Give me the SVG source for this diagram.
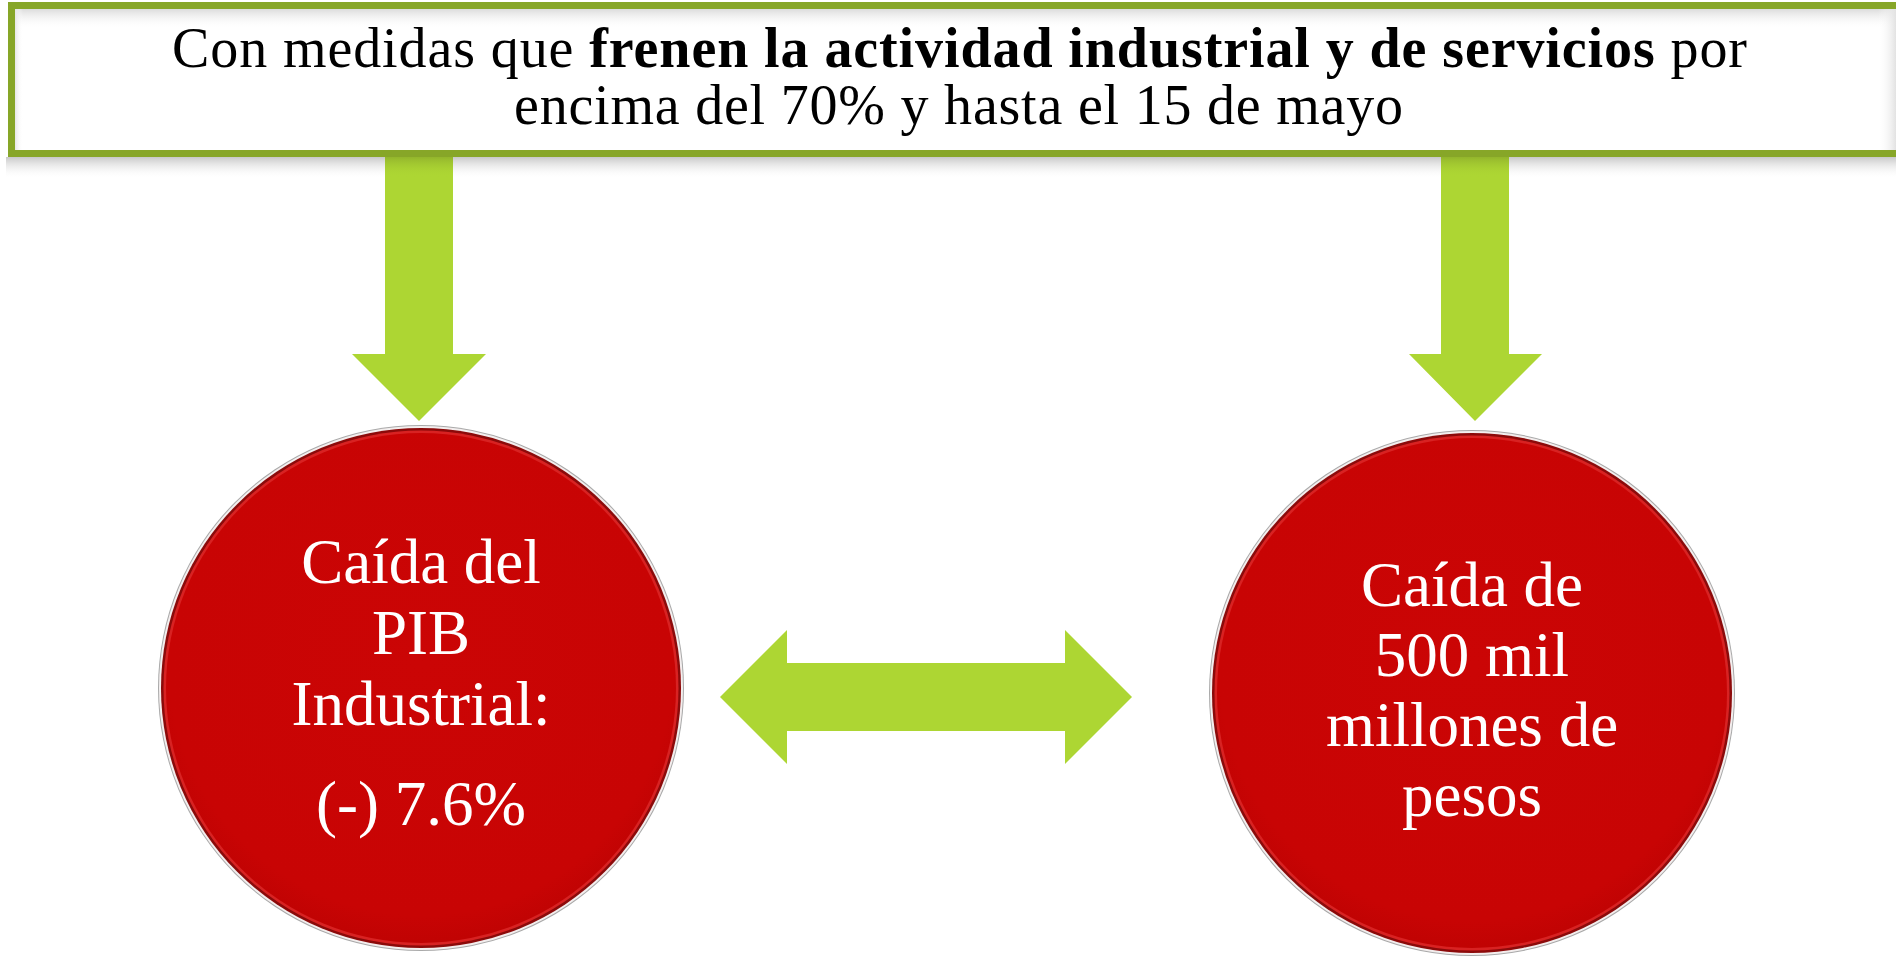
<svg xmlns="http://www.w3.org/2000/svg" width="1896" height="957" viewBox="0 0 1896 957">
  <style>
    .top { font-family: "Liberation Serif", "Times New Roman", serif; font-size: 56px; fill: #000; }
    .b { font-weight: bold; }
    .ct { font-family: "Liberation Serif", "Times New Roman", serif; font-size: 63px; fill: #fff; text-anchor: middle; }
    .arrow { fill: #add633; }
  </style>
  <defs>
    <linearGradient id="shadowDown" x1="0" y1="0" x2="0" y2="1">
      <stop offset="0" stop-color="#c8c8c8"/>
      <stop offset="1" stop-color="#ffffff" stop-opacity="0"/>
    </linearGradient>
    <linearGradient id="innerTop" x1="0" y1="0" x2="0" y2="1">
      <stop offset="0" stop-color="#dcdcdc"/>
      <stop offset="1" stop-color="#ffffff" stop-opacity="0"/>
    </linearGradient>
    <linearGradient id="innerRight" x1="1" y1="0" x2="0" y2="0">
      <stop offset="0" stop-color="#e2e2e2"/>
      <stop offset="1" stop-color="#ffffff" stop-opacity="0"/>
    </linearGradient>
    <linearGradient id="innerLeft" x1="0" y1="0" x2="1" y2="0">
      <stop offset="0" stop-color="#e6e6e6"/>
      <stop offset="1" stop-color="#ffffff" stop-opacity="0"/>
    </linearGradient>
    <linearGradient id="shaftShade" x1="0" y1="0" x2="0" y2="1">
      <stop offset="0" stop-color="#93b52c"/>
      <stop offset="1" stop-color="#add633" stop-opacity="0"/>
    </linearGradient>
    <radialGradient id="redFill" cx="0.5" cy="0.45" r="0.55">
      <stop offset="0" stop-color="#cb0505"/>
      <stop offset="0.9" stop-color="#c80404"/>
      <stop offset="1" stop-color="#c00303"/>
    </radialGradient>
    <g id="disc">
      <circle r="263" fill="#a9a9a9"/>
      <circle r="262" fill="#f3eeee"/>
      <circle r="260" fill="#8c0a0a"/>
      <circle r="257.5" fill="#d82222"/>
      <circle r="255" fill="url(#redFill)"/>
    </g>
  </defs>

  <rect width="1896" height="957" fill="#ffffff"/>

  <!-- shadow under top box -->
  <rect x="6" y="157" width="1890" height="22" fill="url(#shadowDown)"/>

  <g id="top-box">
    <rect x="11.5" y="5.5" width="1900" height="148" fill="#ffffff"/>
    <rect x="15" y="9" width="1881" height="20" fill="url(#innerTop)"/>
    <rect x="1878" y="9" width="18" height="141" fill="url(#innerRight)"/>
    <rect x="15" y="9" width="8" height="141" fill="url(#innerLeft)"/>
    <rect x="11.5" y="5.5" width="1900" height="148" fill="none" stroke="#87a628" stroke-width="7"/>
    <text class="top" x="172" y="67" textLength="1575" lengthAdjust="spacing">Con medidas que <tspan class="b">frenen la actividad industrial y de servicios</tspan> por</text>
    <text class="top" x="514" y="124" textLength="889" lengthAdjust="spacing">encima del 70% y hasta el 15 de mayo</text>
  </g>

  <g id="connectors">
    <polygon class="arrow" points="385,157 453,157 453,354 486,354 419,421 352,354 385,354"/>
    <rect x="385" y="157" width="68" height="20" fill="url(#shaftShade)"/>
    <polygon class="arrow" points="1441,157 1509,157 1509,354 1542,354 1475,421 1409,354 1441,354"/>
    <rect x="1441" y="157" width="68" height="20" fill="url(#shaftShade)"/>
    <polygon class="arrow" points="720,697 787,630 787,663 1065,663 1065,630 1132,697 1065,764 1065,731 787,731 787,764"/>
  </g>

  <g id="node-pib">
    <use href="#disc" x="421" y="688"/>
    <text class="ct" x="421" y="583">Caída del</text>
    <text class="ct" x="421" y="654">PIB</text>
    <text class="ct" x="421" y="725">Industrial:</text>
    <text class="ct" x="421" y="825">(-) 7.6%</text>
  </g>

  <g id="node-pesos">
    <use href="#disc" x="1472" y="693"/>
    <text class="ct" x="1472" y="606">Caída de</text>
    <text class="ct" x="1472" y="676">500 mil</text>
    <text class="ct" x="1472" y="746">millones de</text>
    <text class="ct" x="1472" y="816">pesos</text>
  </g>
</svg>
